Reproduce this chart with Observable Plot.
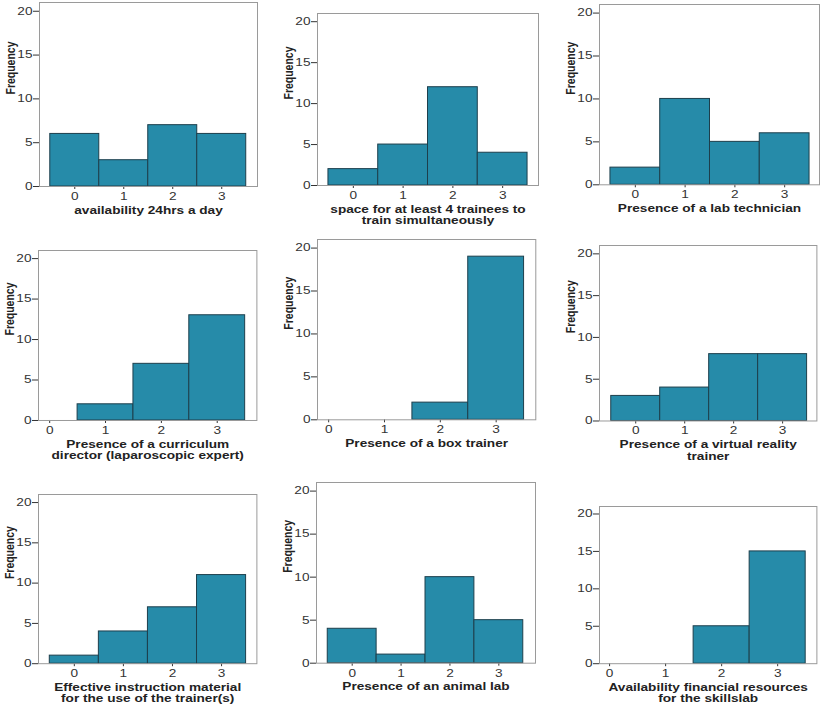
<!DOCTYPE html>
<html><head><meta charset="utf-8">
<script src="https://cdn.jsdelivr.net/npm/d3@7"></script>
<script src="https://cdn.jsdelivr.net/npm/@observablehq/plot@0.6"></script>
<style>
body{margin:0;background:#fff;}
#chart{position:relative;width:822px;height:714px;overflow:hidden;background:#fff;font-family:"Liberation Sans",Arial,sans-serif;}
#chart svg{position:absolute;}
</style></head><body><div id="chart"></div>
<script>
// ---- data ----
const categories = [0, 1, 2, 3];
const yTicks = [0, 5, 10, 15, 20];
const titles = [
  "availability 24hrs a day",
  "space for at least 4 trainees to\ntrain simultaneously",
  "Presence of a lab technician",
  "Presence of a curriculum\ndirector (laparoscopic expert)",
  "Presence of a box trainer",
  "Presence of a virtual reality\ntrainer",
  "Effective instruction material\nfor the use of the trainer(s)",
  "Presence of an animal lab",
  "Availability financial resources\nfor the skillslab"
];
const availability24h = [6, 3, 7, 6];
const spaceFor4Trainees = [2, 5, 12, 4];
const labTechnician = [2, 10, 5, 6];
const curriculumDirector = [0, 2, 7, 13];
const boxTrainer = [0, 0, 2, 19];
const virtualReality = [3, 4, 8, 8];
const instructionMaterial = [1, 4, 7, 11];
const animalLab = [4, 1, 10, 5];
const financialResources = [0, 0, 5, 15];
const series = [availability24h, spaceFor4Trainees, labTechnician, curriculumDirector,
  boxTrainer, virtualReality, instructionMaterial, animalLab, financialResources];
const showFrequency = [true, true, true, true, true, true, true, true, false];

// ---- layout (frame box in page pixels and x-domain per panel) ----
const frames = [
  [39, 257, 2, 186, -0.72, 3.73],
  [316.7, 537.7, 13, 185, -0.72, 3.72],
  [599.3, 819.3, 4, 184.3, -0.72, 3.70],
  [38.3, 256.7, 250, 420, -0.2, 3.71],
  [316.7, 535, 239, 419.3, -0.2, 3.71],
  [599.3, 816.7, 244.5, 420, -0.74, 3.70],
  [38.3, 256.7, 493.5, 662.7, -0.73, 3.72],
  [316, 535, 482, 662.7, -0.73, 3.75],
  [599.3, 816.7, 505.5, 662.7, -0.18, 3.70]
];

const FILL = "#268ba9", STROKE = "#1d3f4c", FRAME = "#9a9a9a";
const ML = 45, MR = 10, MT = 10, MB = 50;

// horizontal stretch of the lettering (the reference figure is widened)
function stretch(svg) {
  svg.querySelectorAll("text").forEach(t => {
    let tr = t.getAttribute("transform") || "";
    const x = t.getAttribute("x");
    if (x != null && /^-?[\d.]+$/.test(x) && +x !== 0) {
      tr = tr + ` translate(${+x},0)`;
      t.removeAttribute("x");
    }
    const rotated = /rotate/.test(tr);
    t.setAttribute("transform", tr + (rotated ? " scale(1,1.2)" : " scale(1.3,1)"));
  });
}

const chart = document.getElementById("chart");
series.forEach((counts, i) => {
  const [fx0, fx1, fy0, fy1, d0, d1] = frames[i];
  const data = categories.map((c, j) => ({cat: c, count: counts[j]})).filter(d => d.count > 0);
  const width = fx1 - fx0 + ML + MR, height = fy1 - fy0 + MT + MB;
  const svg = Plot.plot({
    width, height,
    marginLeft: ML, marginRight: MR, marginTop: MT, marginBottom: MB,
    style: {background: "transparent", overflow: "visible", fontFamily: "Liberation Sans, Arial, sans-serif", fontSize: "10.5px", color: "#333"},
    x: {domain: [d0, d1], ticks: categories, tickSize: 3, tickPadding: 3, label: null, tickFormat: d => String(d)},
    y: {domain: [0, 21], ticks: yTicks, tickSize: 6, tickPadding: 1, label: null, tickFormat: d => String(d)},
    marks: [
      Plot.rect(data, {x1: d => d.cat - 0.5, x2: d => d.cat + 0.5, y1: 0, y2: "count", fill: FILL, stroke: STROKE, strokeWidth: 1}),
      Plot.frame({stroke: FRAME}),
      Plot.text([titles[i]], {text: d => d, frameAnchor: "bottom", dy: 19, lineAnchor: "top", fontWeight: "bold", fontSize: 10.5, lineHeight: 1.1, fill: "#222"}),
      showFrequency[i] ? Plot.text(["Frequency"], {text: d => d, frameAnchor: "left", dx: -29, rotate: -90, fontWeight: "bold", fontSize: 10.5, fill: "#222"}) : null
    ]
  });
  svg.style.left = (fx0 - ML) + "px";
  svg.style.top = (fy0 - MT) + "px";
  stretch(svg);
  chart.appendChild(svg);
});
</script></body></html>
